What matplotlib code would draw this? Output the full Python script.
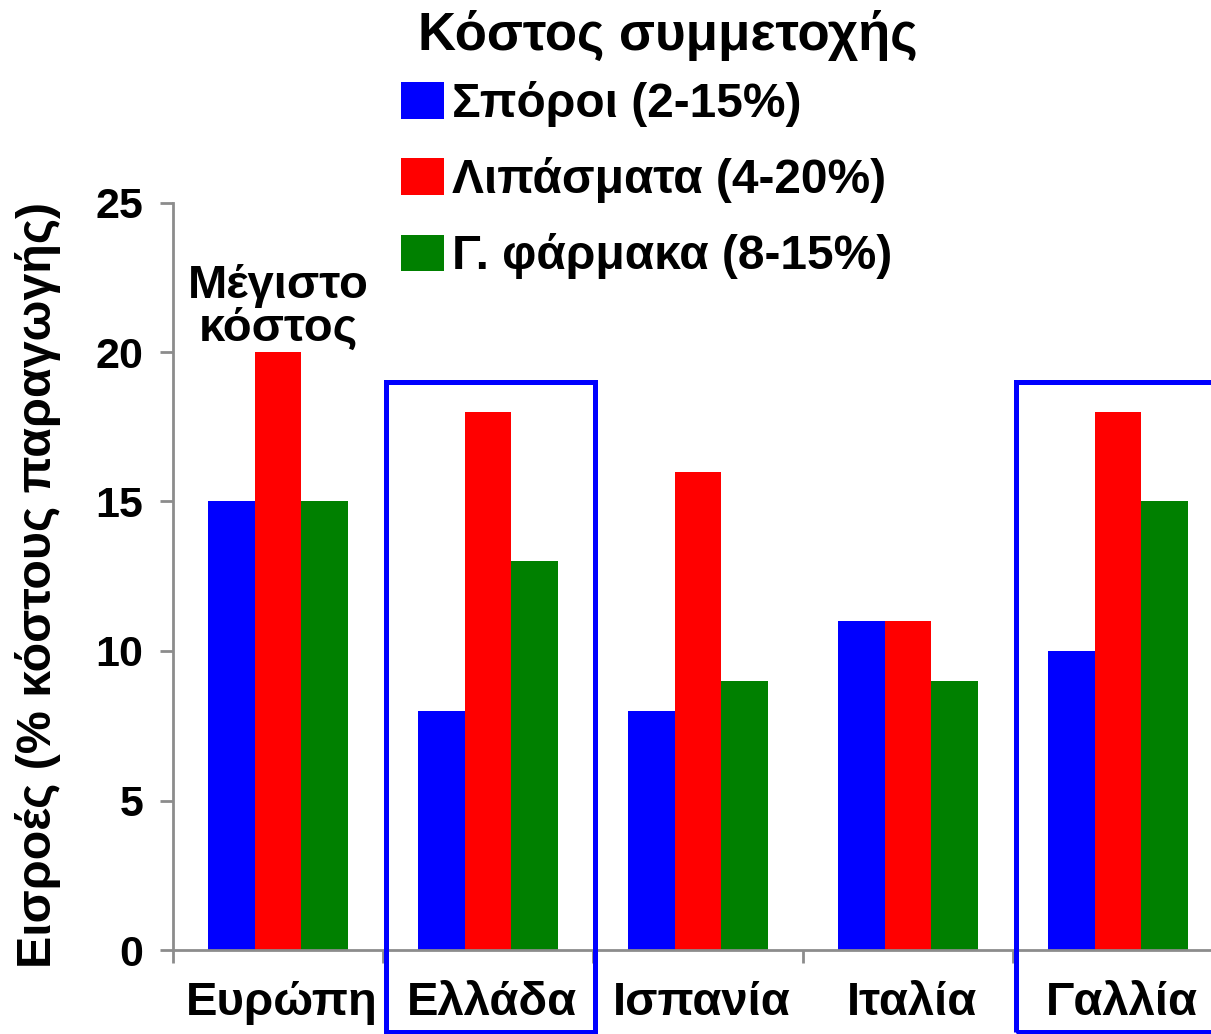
#!/usr/bin/env python3
# Wykres słupkowy: koszt środków produkcji w różnych krajach.
import matplotlib.pyplot as plt
from matplotlib.patches import Rectangle
import numpy as np

plt.rcParams["font.family"] = ["Liberation Sans", "DejaVu Sans"]
plt.rcParams["font.weight"] = "bold"

countries = ["Ευρώπη", "Ελλάδα", "Ισπανία", "Ιταλία", "Γαλλία"]
seeds = [15, 8, 8, 11, 10]
fertilizers = [20, 18, 16, 11, 18]
pesticides = [15, 13, 9, 9, 15]
series_labels = ["Σπόροι (2-15%)", "Λιπάσματα (4-20%)", "Γ. φάρμακα (8-15%)"]
series_colors = ["#0000ff", "#ff0000", "#008000"]
highlighted = ["Ελλάδα", "Γαλλία"]
y_ticks = [0, 5, 10, 15, 20, 25]

W, H = 1211, 1034
fig = plt.figure(figsize=(W / 100, H / 100), dpi=100)
ax = fig.add_axes([173 / W, 84 / H, 1050 / W, 747.5 / H])

centers = np.arange(len(countries)) + 0.5
bar_w = 0.2214
handles = []
for k, (vals, col, lab) in enumerate(zip([seeds, fertilizers, pesticides], series_colors, series_labels)):
    b = ax.bar(centers + (k - 1) * bar_w, vals, width=bar_w, color=col, label=lab, zorder=2)
    handles.append(b)

ax.set_xlim(0, len(countries))
ax.set_ylim(0, 25)

gray = "#8c8c8c"
for side in ["top", "right"]:
    ax.spines[side].set_visible(False)
for side in ["left", "bottom"]:
    ax.spines[side].set_color(gray)
    ax.spines[side].set_linewidth(2)
    ax.spines[side].set_clip_on(False)

ax.set_yticks(y_ticks)
ax.set_yticklabels([str(v) for v in y_ticks], fontweight="bold")
ax.tick_params(axis="y", length=9.5, width=2, color=gray, pad=12, labelsize=31)
# główne podziałki na granicach kategorii, etykiety na podziałkach pomocniczych
ax.set_xticks(np.arange(len(countries) + 1))
ax.set_xticklabels([])
ax.set_xticks(centers + 0.02, minor=True)
ax.set_xticklabels(countries, minor=True, fontweight="bold")
ax.tick_params(axis="x", which="major", length=9.5, width=2, color=gray)
ax.tick_params(axis="x", which="minor", length=0, pad=22, labelsize=34)

# niebieskie ramki wokół wyróżnionych krajów
for name in highlighted:
    i = countries.index(name)
    ax.add_patch(Rectangle((i + 0.015, -2.75), 0.995, 21.75, fill=False,
                           edgecolor="#0000ff", linewidth=3.6, clip_on=False, zorder=3))

ax.text(centers[0], 20.05, "Μέγιστο\nκόστος", ha="center", va="bottom",
        fontsize=34, fontweight="bold", linespacing=0.95)

fig.text(38 / W, 1 - 585 / H, "Εισροές (% κόστους παραγωγής)", rotation=90,
         ha="center", va="center", fontsize=34.8, fontweight="bold")

fig.text(668 / W, 1 - 50 / H, "Κόστος συμμετοχής", ha="center", va="baseline",
         fontsize=38, fontweight="bold")

fig.legend(handles=handles, loc="upper left", bbox_to_anchor=(401 / W, 1 - 81 / H),
           frameon=False, borderpad=0, borderaxespad=0,
           prop={"size": 34.5, "weight": "bold"},
           handlelength=0.9, handleheight=0.79, handletextpad=0.17, labelspacing=0.63)

fig.savefig("out.png", dpi=100)
